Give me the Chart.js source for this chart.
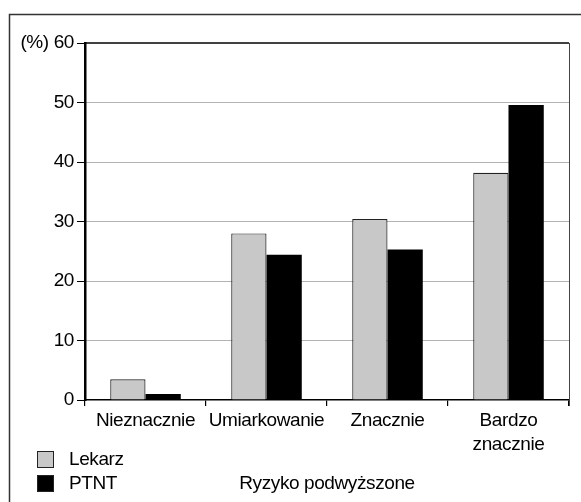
<!DOCTYPE html>
<html><head><meta charset="utf-8">
<script src="https://cdn.jsdelivr.net/npm/chart.js@4"></script>
<style>html,body{margin:0;padding:0;background:#fff}#wrap{width:581px;height:502px;position:relative}</style>
</head><body><div id="wrap"><canvas id="c" width="581" height="502"></canvas></div>
<script>
const categories = ['Nieznacznie', 'Umiarkowanie', 'Znacznie', ['Bardzo', 'znacznie']];
const lekarz = [3.5, 28.0, 30.4, 38.2];
const ptnt = [1.0, 24.4, 25.3, 49.6];
const seriesNames = ['Lekarz', 'PTNT'];
const yTicks = [0, 10, 20, 30, 40, 50, 60];
const xTitle = 'Ryzyko podwyższone';
const yUnit = '(%)';

const FONT = '"Liberation Sans", Arial, sans-serif';
const FS = 19;
const LS = '-0.4px';

const spacingPlugin = {
  id: 'spacing',
  beforeUpdate(chart) { chart.ctx.letterSpacing = LS; },
  beforeLayout(chart) { chart.ctx.letterSpacing = LS; },
  beforeDraw(chart) { chart.ctx.letterSpacing = LS; }
};

const framePlugin = {
  id: 'frame',
  afterDraw(chart) {
    const ctx = chart.ctx, a = chart.chartArea;
    ctx.save();
    ctx.strokeStyle = '#333'; ctx.lineWidth = 1.5;
    ctx.beginPath(); ctx.moveTo(9.5, 502); ctx.lineTo(9.5, 14.5); ctx.lineTo(581, 14.5); ctx.stroke();
    ctx.strokeStyle = '#000'; ctx.lineWidth = 1.5;
    ctx.beginPath(); ctx.moveTo(a.left, a.top); ctx.lineTo(a.right, a.top); ctx.stroke();
    ctx.strokeStyle = '#444'; ctx.lineWidth = 1;
    ctx.beginPath(); ctx.moveTo(a.right + 0.5, a.top); ctx.lineTo(a.right + 0.5, a.bottom + 6); ctx.stroke();
    ctx.letterSpacing = LS;
    ctx.font = FS + 'px ' + FONT; ctx.textBaseline = 'middle'; ctx.textAlign = 'left';
    chart.data.datasets.forEach((ds, i) => {
      const y = 451 + i * 24;
      ctx.fillStyle = ds.backgroundColor; ctx.fillRect(37, y, 17, 17);
      ctx.strokeStyle = '#222'; ctx.lineWidth = 1; ctx.strokeRect(37.5, y + 0.5, 16, 16);
      ctx.fillStyle = '#000'; ctx.fillText(ds.label, 69, y + 9);
    });
    ctx.restore();
  }
};

new Chart(document.getElementById('c'), {
  type: 'bar',
  data: {
    labels: categories,
    datasets: [
      { label: seriesNames[0], data: lekarz, backgroundColor: '#c8c8c8', borderColor: '#222', borderWidth: 1.2 },
      { label: seriesNames[1], data: ptnt, backgroundColor: '#000', borderColor: '#000', borderWidth: 0 }
    ]
  },
  options: {
    responsive: false, animation: false,
    categoryPercentage: 0.583, barPercentage: 1,
    layout: { padding: { left: 0, top: 43, right: 12, bottom: 0 } },
    plugins: { legend: { display: false }, tooltip: { enabled: false } },
    scales: {
      x: {
        grid: { display: true, drawOnChartArea: false, offset: true, tickLength: 6, tickColor: '#000', lineWidth: 1.2 },
        border: { display: true, color: '#000', width: 1.5 },
        ticks: { color: '#000', font: { family: FONT, size: FS, lineHeight: 1.25 }, padding: 3, maxRotation: 0, autoSkip: false },
        title: { display: true, text: xTitle, color: '#000', font: { family: FONT, size: FS }, padding: { top: 0, bottom: 7 } },
        afterFit(s) { s.height = 102; }
      },
      y: {
        min: 0, max: 60,
        afterBuildTicks(s) { s.ticks = yTicks.map(v => ({ value: v })); },
        grid: {
          color: c => (c.tick && (c.tick.value === 0 || c.tick.value === 60)) ? 'rgba(0,0,0,0)' : '#666',
          tickColor: '#000', tickLength: 8, lineWidth: 1
        },
        border: { display: true, color: '#000', width: 2.5, dash: [1, 1] },
        ticks: {
          color: '#000', font: { family: FONT, size: FS }, padding: 3,
          callback: v => v === 60 ? yUnit + ' ' + v : String(v)
        },
        afterFit(s) { s.width = 85; }
      }
    }
  },
  plugins: [spacingPlugin, framePlugin]
});
</script></body></html>
